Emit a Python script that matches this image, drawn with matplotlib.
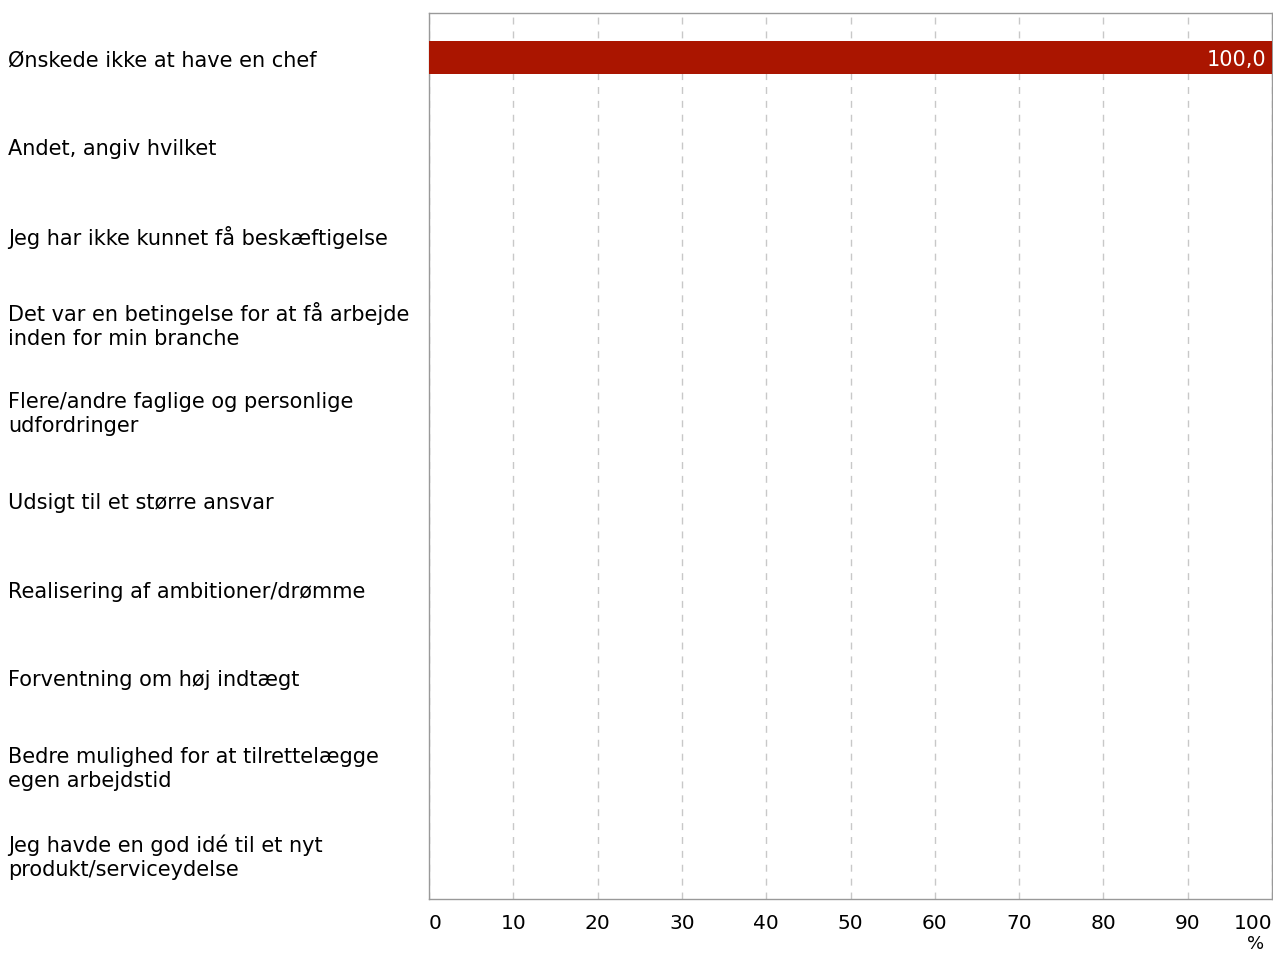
import numpy as np
import matplotlib.pyplot as plt
import matplotlib.transforms as mtrans

categories = [
    'Ønskede ikke at have en chef',
    'Andet, angiv hvilket',
    'Jeg har ikke kunnet få beskæftigelse',
    'Det var en betingelse for at få arbejde\ninden for min branche',
    'Flere/andre faglige og personlige\nudfordringer',
    'Udsigt til et større ansvar',
    'Realisering af ambitioner/drømme',
    'Forventning om høj indtægt',
    'Bedre mulighed for at tilrettelægge\negen arbejdstid',
    'Jeg havde en god idé til et nyt\nprodukt/serviceydelse',
]
values = [100.0, 0, 0, 0, 0, 0, 0, 0, 0, 0]
xticks = list(range(0, 101, 10))

plt.rcParams['font.family'] = ['DejaVu Sans']
FS = 15

fig = plt.figure(figsize=(12.73, 9.54), dpi=100)
ax = fig.add_axes([429 / 1273, 1 - 900 / 954, (1272 - 429) / 1273, (900 - 14) / 954])

y = np.arange(len(categories))
ax.barh(y, values, height=0.37, color='#aa1500', zorder=3)
for yi, v in zip(y, values):
    if v > 0:
        ax.text(v - 0.7, yi + 0.02, f'{v:.1f}'.replace('.', ','), ha='right', va='center',
                color='white', fontsize=FS, zorder=4)

ax.set_xlim(0, 100)
ax.set_ylim(len(categories) - 0.5, -0.5)
ax.set_xticks(xticks)
ax.set_xticklabels([str(t) for t in xticks], fontsize=14.5)
ax.tick_params(axis='x', length=0, pad=10)
ax.set_yticks([])
labs = ax.get_xticklabels()
labs[0].set_ha('left')
labs[-1].set_ha('right')

# category labels, left aligned at the figure edge
trans = mtrans.blended_transform_factory(fig.transFigure, ax.transData)
for yi, c in zip(y, categories):
    ax.text(8 / 1273, yi + 0.02, c, transform=trans, fontsize=FS,
            ha='left', va='center', linespacing=1.25, clip_on=False)

ax.grid(axis='x', color='#c8c8c8', linestyle=(0, (5, 5)), linewidth=1, zorder=0)
for s in ax.spines.values():
    s.set_color('#999999')
    s.set_linewidth(1)

fig.text(1256 / 1273, 1 - 953 / 954, '%', ha='center', va='bottom', fontsize=13)

fig.savefig('out.png', dpi=100)
